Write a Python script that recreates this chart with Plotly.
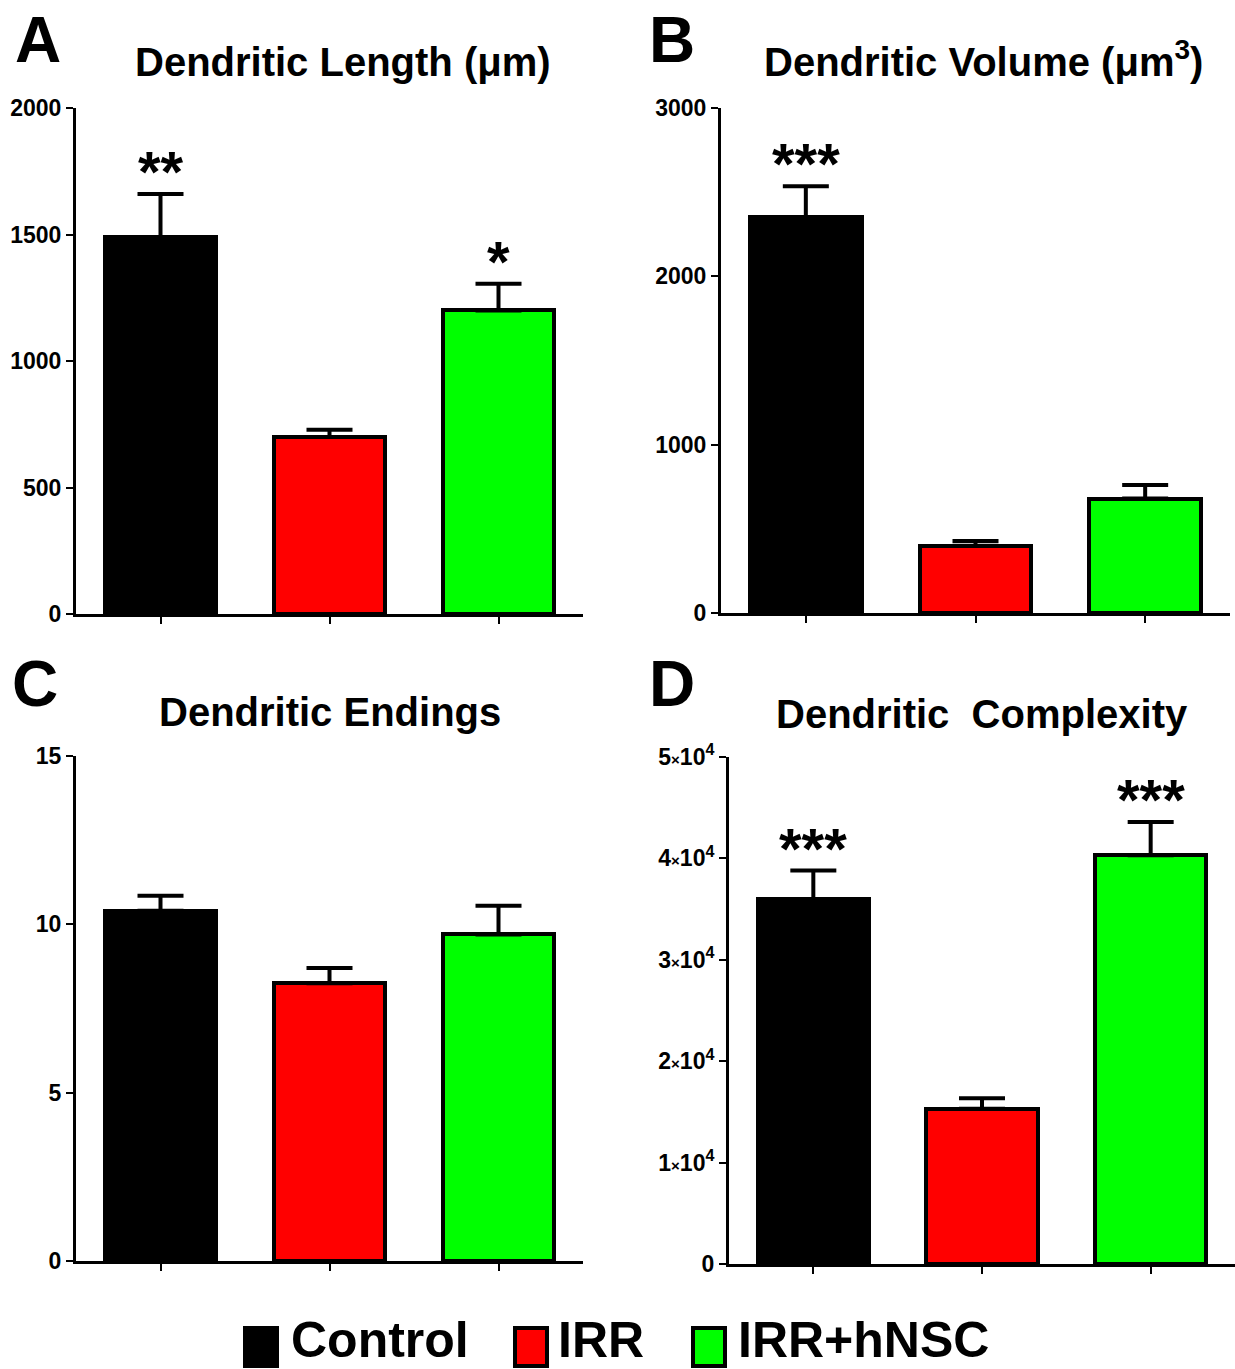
import plotly.graph_objects as go

# Groups and fill colours
groups = ["Control", "IRR", "IRR+hNSC"]
colors = ["#000000", "#ff0000", "#00ff00"]

# Mean and SEM per group for each morphometric measure
length_mean = [1490, 700, 1200]
length_sem = [170, 28, 105]
volume_mean = [2350, 400, 680]
volume_sem = [185, 28, 80]
endings_mean = [10.4, 8.25, 9.7]
endings_sem = [0.45, 0.45, 0.85]
complexity_mean = [36000, 15300, 40300]
complexity_sem = [2800, 1050, 3300]

# Significance markers per group
length_stars = ["**", "", "*"]
volume_stars = ["***", "", ""]
endings_stars = ["", "", ""]
complexity_stars = ["***", "", "***"]

# Axis ticks
length_ticks = [0, 500, 1000, 1500, 2000]
volume_ticks = [0, 1000, 2000, 3000]
endings_ticks = [0, 5, 10, 15]
complexity_ticks = [0, 10000, 20000, 30000, 40000, 50000]
complexity_ticktext = ["0"] + [
    f"{k}<span style='font-size:15px'>×</span>10<sup>4</sup>" for k in range(1, 6)
]

panel_letters = ["A", "B", "C", "D"]
panel_titles = ["Dendritic Length (μm)", "Dendritic Volume (μm<sup>3</sup>)",
                "Dendritic Endings", "Dendritic  Complexity"]

W, H = 1235, 1369
FONT = "Liberation Sans, Arial, sans-serif"


def px_x(p):
    return p / W


def px_y(p):
    return 1 - p / H


# Plot-area extents in pixels: (left, right, top, bottom)
panels = [
    dict(mean=length_mean, sem=length_sem, stars=length_stars,
         ticks=length_ticks, ticktext=None, box=(76, 583, 108, 614),
         letter_xy=(38, 40), title_xy=(343, 62)),
    dict(mean=volume_mean, sem=volume_sem, stars=volume_stars,
         ticks=volume_ticks, ticktext=None, box=(721, 1230, 108, 613),
         letter_xy=(672, 40), title_xy=(983, 59)),
    dict(mean=endings_mean, sem=endings_sem, stars=endings_stars,
         ticks=endings_ticks, ticktext=None, box=(76, 583, 756, 1261),
         letter_xy=(35, 684), title_xy=(330, 712)),
    dict(mean=complexity_mean, sem=complexity_sem, stars=complexity_stars,
         ticks=complexity_ticks, ticktext=complexity_ticktext, box=(729, 1236, 757, 1264),
         letter_xy=(672, 684), title_xy=(982, 714)),
]

fig = go.Figure()
annotations = []
shapes = []
layout_axes = {}

for i, p in enumerate(panels, start=1):
    xa = "x" if i == 1 else f"x{i}"
    ya = "y" if i == 1 else f"y{i}"
    fig.add_trace(go.Bar(
        x=[0, 1, 2], y=p["mean"], width=0.66,
        marker=dict(color=colors, line=dict(color="black", width=4)),
        error_y=dict(type="data", array=p["sem"], arrayminus=[0, 0, 0],
                     symmetric=False, color="black", thickness=4, width=23),
        xaxis=xa, yaxis=ya, showlegend=False, cliponaxis=False,
    ))
    left, right, top, bottom = p["box"]
    axis_common = dict(showline=True, linecolor="black", linewidth=3,
                       ticks="outside", ticklen=7, tickwidth=2, tickcolor="black",
                       showgrid=False, zeroline=False, automargin=False)
    layout_axes["xaxis" if i == 1 else f"xaxis{i}"] = dict(
        domain=[px_x(left), min(1.0, px_x(right))], range=[-0.5, 2.5],
        tickvals=[0, 1, 2], showticklabels=False, anchor=ya, **axis_common)
    yax = dict(domain=[px_y(bottom), px_y(top)], range=[0, p["ticks"][-1]],
               tickvals=p["ticks"], anchor=xa,
               tickfont=dict(family=FONT, size=23, color="black", weight="bold"),
               **axis_common)
    if p["ticktext"]:
        yax["ticktext"] = p["ticktext"]
    layout_axes["yaxis" if i == 1 else f"yaxis{i}"] = yax

    # significance stars above the error caps
    for k, s in enumerate(p["stars"]):
        if s:
            annotations.append(dict(
                x=k, y=p["mean"][k] + p["sem"][k], xref=xa, yref=ya,
                text=s, showarrow=False, yanchor="bottom", yshift=-12,
                font=dict(family=FONT, size=58, color="black", weight="bold")))

    lx, ly = p["letter_xy"]
    annotations.append(dict(
        x=px_x(lx), y=px_y(ly), xref="paper", yref="paper",
        text=panel_letters[i - 1], showarrow=False, xanchor="center", yanchor="middle",
        font=dict(family=FONT, size=64, color="black", weight="bold")))
    tx, ty = p["title_xy"]
    annotations.append(dict(
        x=px_x(tx), y=px_y(ty), xref="paper", yref="paper",
        text=panel_titles[i - 1], showarrow=False, xanchor="center", yanchor="middle",
        font=dict(family=FONT, size=40, color="black", weight="bold")))

# Legend drawn as swatches and labels along the bottom
swatch_left = [245, 515, 693]
label_left = [290, 557, 737]
for k, g in enumerate(groups):
    shapes.append(dict(
        type="rect", xref="paper", yref="paper",
        x0=px_x(swatch_left[k]), x1=px_x(swatch_left[k] + 32),
        y0=px_y(1366), y1=px_y(1328),
        fillcolor=colors[k], line=dict(color="black", width=4)))
    annotations.append(dict(
        x=px_x(label_left[k]), y=0, xref="paper", yref="paper",
        text=g, showarrow=False, xanchor="left", yanchor="bottom",
        borderpad=0,
        font=dict(family=FONT, size=50, color="black", weight="bold")))

fig.update_layout(
    template="none",
    width=W, height=H, margin=dict(l=0, r=0, t=0, b=0, autoexpand=False),
    paper_bgcolor="white", plot_bgcolor="white", showlegend=False,
    annotations=annotations, shapes=shapes, bargap=0,
    **layout_axes,
)

fig.write_html("out.html")
